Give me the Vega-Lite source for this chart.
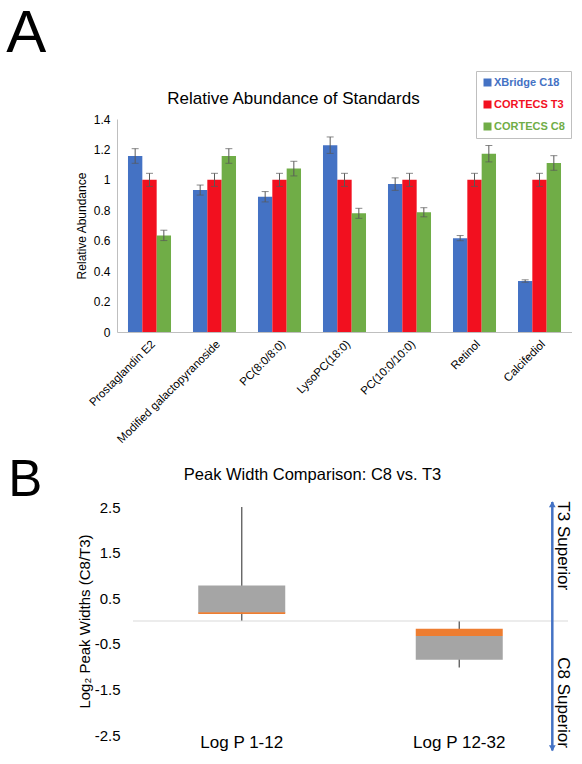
{
  "$schema": "https://vega.github.io/schema/vega-lite/v6.json",
  "padding": {"left": 6, "top": 3, "right": 0, "bottom": 0},
  "spacing": 8,
  "config": {
    "font": "Liberation Sans",
    "view": {"stroke": null},
    "axis": {"labelColor": "#000000", "titleColor": "#000000", "grid": false, "ticks": false, "labelOverlap": false},
    "title": {"color": "#000000", "fontWeight": "normal"}
  },
  "datasets": {
    "bars": [
      {"compound": "Prostaglandin E2", "column": "XBridge C18", "value": 1.157, "lo": 1.109, "hi": 1.205},
      {"compound": "Prostaglandin E2", "column": "CORTECS T3", "value": 1.0, "lo": 0.957, "hi": 1.043},
      {"compound": "Prostaglandin E2", "column": "CORTECS C8", "value": 0.635, "lo": 0.601, "hi": 0.669},
      {"compound": "Modified galactopyranoside", "column": "XBridge C18", "value": 0.933, "lo": 0.9, "hi": 0.966},
      {"compound": "Modified galactopyranoside", "column": "CORTECS T3", "value": 1.0, "lo": 0.957, "hi": 1.043},
      {"compound": "Modified galactopyranoside", "column": "CORTECS C8", "value": 1.157, "lo": 1.109, "hi": 1.205},
      {"compound": "PC(8:0/8:0)", "column": "XBridge C18", "value": 0.889, "lo": 0.855, "hi": 0.923},
      {"compound": "PC(8:0/8:0)", "column": "CORTECS T3", "value": 1.0, "lo": 0.957, "hi": 1.043},
      {"compound": "PC(8:0/8:0)", "column": "CORTECS C8", "value": 1.074, "lo": 1.026, "hi": 1.122},
      {"compound": "LysoPC(18:0)", "column": "XBridge C18", "value": 1.228, "lo": 1.174, "hi": 1.282},
      {"compound": "LysoPC(18:0)", "column": "CORTECS T3", "value": 1.0, "lo": 0.957, "hi": 1.043},
      {"compound": "LysoPC(18:0)", "column": "CORTECS C8", "value": 0.78, "lo": 0.747, "hi": 0.813},
      {"compound": "PC(10:0/10:0)", "column": "XBridge C18", "value": 0.972, "lo": 0.931, "hi": 1.013},
      {"compound": "PC(10:0/10:0)", "column": "CORTECS T3", "value": 1.0, "lo": 0.957, "hi": 1.043},
      {"compound": "PC(10:0/10:0)", "column": "CORTECS C8", "value": 0.787, "lo": 0.757, "hi": 0.817},
      {"compound": "Retinol", "column": "XBridge C18", "value": 0.617, "lo": 0.6, "hi": 0.634},
      {"compound": "Retinol", "column": "CORTECS T3", "value": 1.0, "lo": 0.957, "hi": 1.043},
      {"compound": "Retinol", "column": "CORTECS C8", "value": 1.172, "lo": 1.118, "hi": 1.226},
      {"compound": "Calcifediol", "column": "XBridge C18", "value": 0.335, "lo": 0.327, "hi": 0.343},
      {"compound": "Calcifediol", "column": "CORTECS T3", "value": 1.0, "lo": 0.957, "hi": 1.043},
      {"compound": "Calcifediol", "column": "CORTECS C8", "value": 1.111, "lo": 1.063, "hi": 1.159}
    ],
    "boxes": [
      {"group": "Log P 1-12", "lo": 0.0, "q1": 0.18, "q3": 0.78, "m1": 0.155, "m2": 0.19, "hi": 2.5},
      {"group": "Log P 12-32", "lo": -1.02, "q1": -0.85, "q3": -0.33, "m1": -0.33, "m2": -0.17, "hi": 0.0}
    ],
    "zero": [{"x1": 0.0355, "x2": 1.0, "v": 0}],
    "arrow": [{"ax": 0.9652, "top": 2.61, "bot": -2.84}],
    "heads": [
      {"ax": 0.9652, "y": 2.56, "dir": "up"},
      {"ax": 0.9652, "y": -2.79, "dir": "down"}
    ],
    "notes": [
      {"ax": 0.9889, "y": 1.65, "t": "T3 Superior"},
      {"ax": 0.9889, "y": -1.79, "t": "C8 Superior"}
    ]
  },
  "vconcat": [
    {
      "title": {"text": "A", "anchor": "start", "frame": "bounds", "fontSize": 60, "dx": -69, "offset": 6},
      "resolve": {"scale": {"color": "independent"}, "legend": {"color": "independent"}},
      "vconcat": [
        {
          "width": 455,
          "height": 213,
          "title": {"text": "Relative Abundance of Standards", "fontSize": 17, "anchor": "middle", "dx": -51, "offset": -37},
          "data": {"name": "bars"},
          "encoding": {
            "x": {
              "field": "compound", "type": "nominal",
              "sort": ["Prostaglandin E2", "Modified galactopyranoside", "PC(8:0/8:0)", "LysoPC(18:0)", "PC(10:0/10:0)", "Retinol", "Calcifediol"],
              "scale": {"paddingInner": 0.338, "paddingOuter": 0.169},
              "axis": {"title": null, "labelAngle": -45, "labelFontSize": 11.5, "labelPadding": 6, "domainColor": "#bfbfbf", "labelAlign": "right"}
            },
            "xOffset": {
              "field": "column", "type": "nominal",
              "sort": ["XBridge C18", "CORTECS T3", "CORTECS C8"],
              "scale": {"paddingInner": 0, "paddingOuter": 0}
            },
            "y": {
              "field": "value", "type": "quantitative", "title": "Relative Abundance",
              "scale": {"domain": [0, 1.4], "nice": false},
              "axis": {"values": [0, 0.2, 0.4, 0.6, 0.8, 1, 1.2, 1.4], "labelExpr": "'' + datum.value", "labelOverlap": false, "labelFontSize": 12, "labelPadding": 7, "titleFontSize": 12, "titleFontWeight": "normal", "titlePadding": 5, "domainColor": "#bfbfbf"}
            }
          },
          "layer": [
            {
              "mark": {"type": "bar"},
              "encoding": {
                "color": {
                  "field": "column", "type": "nominal",
                  "scale": {"domain": ["XBridge C18", "CORTECS T3", "CORTECS C8"], "range": ["#4472c4", "#f2101f", "#70ad47"]},
                  "legend": {
                    "orient": "none", "legendX": 359, "legendY": -48, "title": null,
                    "strokeColor": "#bfbfbf", "fillColor": "#ffffff", "padding": 6, "rowPadding": 10,
                    "labelFontSize": 11, "labelFontWeight": "bold", "labelOffset": 1,
                    "symbolType": "square", "symbolSize": 64, "symbolStrokeWidth": 0,
                    "encode": {"labels": {"update": {"fill": {"signal": "datum.value === 'XBridge C18' ? '#4472c4' : datum.value === 'CORTECS T3' ? '#f2101f' : '#70ad47'"}}}}
                  }
                }
              }
            },
            {
              "mark": {"type": "rule", "color": "#595959", "strokeWidth": 1},
              "encoding": {
                "y": {"field": "lo", "type": "quantitative"},
                "y2": {"field": "hi"}
              }
            },
            {
              "mark": {"type": "tick", "color": "#595959", "size": 7, "thickness": 1},
              "encoding": {"y": {"field": "lo", "type": "quantitative"}}
            },
            {
              "mark": {"type": "tick", "color": "#595959", "size": 7, "thickness": 1},
              "encoding": {"y": {"field": "hi", "type": "quantitative"}}
            }
          ]
        }
      ]
    },
    {
      "title": {"text": "B", "anchor": "start", "frame": "bounds", "fontSize": 51, "dx": -69, "offset": -40},
      "vconcat": [
        {
          "width": 451,
          "height": 228,
          "title": {"text": "Peak Width Comparison: C8 vs. T3", "fontSize": 16.5, "anchor": "middle", "dx": -30, "offset": 17},
          "resolve": {"scale": {"x": "independent"}, "axis": {"x": "independent"}},
          "layer": [
            {
              "encoding": {
                "x": {
                  "field": "group", "type": "nominal",
                  "scale": {"paddingInner": 0, "paddingOuter": 0.03678, "align": 1},
                  "axis": {"title": null, "labelAngle": 0, "labelFontSize": 17, "labelBaseline": "middle", "labelPadding": 7, "domain": false}
                }
              },
              "layer": [
                {
                  "data": {"name": "boxes"},
                  "mark": {"type": "rule", "color": "#595959", "strokeWidth": 1.3},
                  "encoding": {
                    "y": {"field": "lo", "type": "quantitative", "title": "Log₂ Peak Widths (C8/T3)", "scale": {"domain": [-2.5, 2.5], "nice": false},
                      "axis": {"values": [-2.5, -1.5, -0.5, 0.5, 1.5, 2.5], "labelExpr": "'' + datum.value", "offset": -16, "labelFontSize": 15, "labelPadding": 13, "domain": false, "titleFontSize": 15, "titleFontWeight": "normal", "titlePadding": 2}},
                    "y2": {"field": "hi"}
                  }
                },
                {
                  "data": {"name": "boxes"},
                  "mark": {"type": "bar", "color": "#a5a5a5", "width": {"band": 0.4}},
                  "encoding": {
                    "y": {"field": "q1", "type": "quantitative", "title": "Log₂ Peak Widths (C8/T3)", "scale": {"domain": [-2.5, 2.5], "nice": false}},
                    "y2": {"field": "q3"}
                  }
                },
                {
                  "data": {"name": "boxes"},
                  "mark": {"type": "bar", "color": "#ed7d31", "width": {"band": 0.4}},
                  "encoding": {
                    "y": {"field": "m1", "type": "quantitative", "title": "Log₂ Peak Widths (C8/T3)", "scale": {"domain": [-2.5, 2.5], "nice": false}},
                    "y2": {"field": "m2"}
                  }
                }
              ]
            },
            {
              "encoding": {
                "x": {"field": "ax", "type": "quantitative", "scale": {"domain": [0, 1], "nice": false, "zero": false}, "axis": null}
              },
              "layer": [
                {
                  "data": {"name": "zero"},
                  "mark": {"type": "rule", "color": "#d9d9d9", "strokeWidth": 1.2},
                  "encoding": {
                    "x": {"field": "x1", "type": "quantitative", "scale": {"domain": [0, 1], "nice": false, "zero": false}, "axis": null},
                    "x2": {"field": "x2"},
                    "y": {"field": "v", "type": "quantitative", "title": "Log₂ Peak Widths (C8/T3)", "scale": {"domain": [-2.5, 2.5], "nice": false}}
                  }
                },
                {
                  "data": {"name": "arrow"},
                  "mark": {"type": "rule", "color": "#4472c4", "strokeWidth": 2.5},
                  "encoding": {
                    "y": {"field": "top", "type": "quantitative", "title": "Log₂ Peak Widths (C8/T3)", "scale": {"domain": [-2.5, 2.5], "nice": false}},
                    "y2": {"field": "bot"}
                  }
                },
                {
                  "data": {"name": "heads"},
                  "mark": {"type": "point", "filled": true, "color": "#4472c4", "size": 45, "opacity": 1},
                  "encoding": {
                    "y": {"field": "y", "type": "quantitative", "title": "Log₂ Peak Widths (C8/T3)", "scale": {"domain": [-2.5, 2.5], "nice": false}},
                    "shape": {"field": "dir", "type": "nominal", "scale": {"domain": ["up", "down"], "range": ["triangle-up", "triangle-down"]}, "legend": null}
                  }
                },
                {
                  "data": {"name": "notes"},
                  "mark": {"type": "text", "angle": 90, "fontSize": 17, "align": "center", "baseline": "middle", "color": "#000000"},
                  "encoding": {
                    "y": {"field": "y", "type": "quantitative", "title": "Log₂ Peak Widths (C8/T3)", "scale": {"domain": [-2.5, 2.5], "nice": false}},
                    "text": {"field": "t"}
                  }
                }
              ]
            }
          ]
        }
      ]
    }
  ]
}
